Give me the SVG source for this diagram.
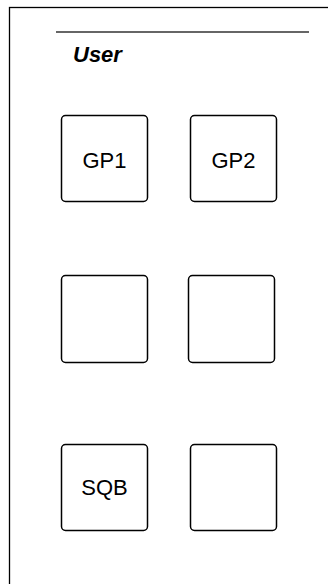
<svg xmlns="http://www.w3.org/2000/svg" width="328" height="584" viewBox="0 0 328 584">
<style>
.box{fill:#fff;stroke:#000;stroke-width:1.5}
.lbl{font-family:"Liberation Sans",Arial,sans-serif;font-size:22px;fill:#000;text-anchor:middle}
</style>
<rect x="0" y="0" width="328" height="584" fill="#fff"/>
<g id="frame">
<rect x="9.5" y="7.5" width="330" height="590" fill="none" stroke="#000" stroke-width="1.3"/>
<line x1="56" y1="32" x2="309" y2="32" stroke="#333" stroke-width="1.3"/>
<text x="73" y="62" font-family="Liberation Sans,Arial,sans-serif" font-size="22" font-weight="bold" font-style="italic">User</text>
</g>
<g id="gp1"><rect class="box" x="61.5" y="115.5" width="86" height="86" rx="4"/><text class="lbl" x="104.5" y="168">GP1</text></g>
<g id="gp2"><rect class="box" x="190.5" y="115.5" width="86" height="86" rx="4"/><text class="lbl" x="233.5" y="168">GP2</text></g>
<g id="box3"><rect class="box" x="61.5" y="275.5" width="86" height="87" rx="4"/></g>
<g id="box4"><rect class="box" x="188.5" y="275.5" width="86" height="87" rx="4"/></g>
<g id="sqb"><rect class="box" x="61.5" y="444.5" width="86" height="86" rx="4"/><text class="lbl" x="104.5" y="495">SQB</text></g>
<g id="box6"><rect class="box" x="190.5" y="444.5" width="86" height="86" rx="4"/></g>
<g id="connectors"></g>
</svg>
